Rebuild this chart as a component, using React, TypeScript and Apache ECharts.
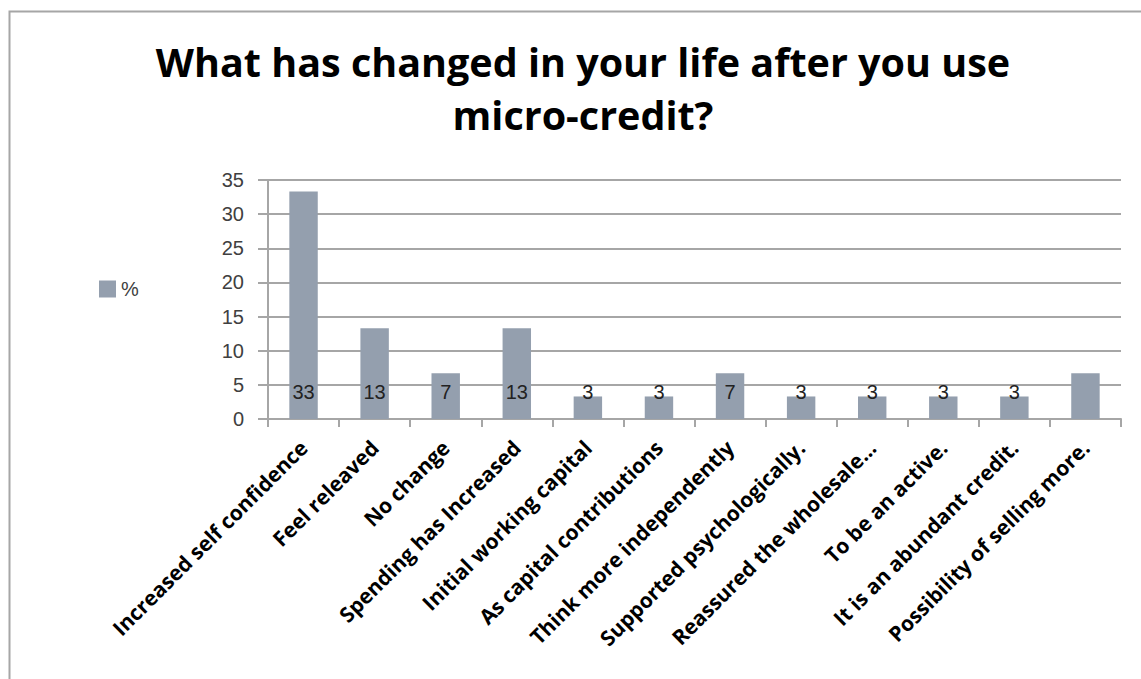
import React, { useEffect, useRef } from "react";
import * as echarts from "echarts";

const categories = [
  "Increased self confidence",
  "Feel releaved",
  "No change",
  "Spending has Increased",
  "Initial working capital",
  "As capital contributions",
  "Think more independently",
  "Supported psychologically.",
  "Reassured the wholesale...",
  "To be an active.",
  "It is an abundant credit.",
  "Possibility of selling more.",
];
const values = [33.3, 13.3, 6.7, 13.3, 3.3, 3.3, 6.7, 3.3, 3.3, 3.3, 3.3, 6.7];
const showLabel = [true, true, true, true, true, true, true, true, true, true, true, false];
const yTicks = { min: 0, max: 35, interval: 5 };
const titleLines = ["What has changed in your life after you use", "micro-credit?"];
const seriesName = "%";

export default function App() {
  const ref = useRef<HTMLDivElement>(null);
  useEffect(() => {
    document.body.style.margin = "0";
    const chart = echarts.init(ref.current!, undefined, { renderer: "svg" });
    const barColor = "#949fae";
    chart.setOption({
      animation: false,
      backgroundColor: "#ffffff",
      graphic: [
        {
          type: "polyline",
          shape: { points: [[9.5, 679], [9.5, 11.5], [1141, 11.5]] },
          style: { stroke: "#a6a6a6", lineWidth: 2, fill: null },
        },
        {
          type: "text",
          x: 583,
          y: 35,
          style: {
            text: titleLines.join("\n"),
            font: "bold 39.5px 'Open Sans'",
            fill: "#000000",
            align: "center",
            verticalAlign: "top",
            lineHeight: 53,
          },
        },
      ],
      legend: {
        data: [seriesName],
        left: 94,
        top: 274,
        itemWidth: 17,
        itemHeight: 17,
        itemGap: 4,
        icon: "rect",
        textStyle: { color: "#404040", fontSize: 20, fontFamily: "Liberation Sans" },
      },
      grid: { left: 268, right: 20, top: 180, bottom: 260, containLabel: false },
      xAxis: {
        type: "category",
        data: categories,
        axisLine: { lineStyle: { color: "#a6a6a6", width: 2 } },
        axisTick: { show: true, length: 8, alignWithLabel: false, lineStyle: { color: "#a6a6a6", width: 2 } },
        axisLabel: {
          interval: 0,
          rotate: 45,
          margin: 25,
          color: "#000000",
          fontSize: 21,
          fontWeight: "bold",
          fontFamily: "Open Sans",
        },
      },
      yAxis: {
        type: "value",
        min: yTicks.min,
        max: yTicks.max,
        interval: yTicks.interval,
        axisLine: { show: true, lineStyle: { color: "#a6a6a6", width: 2 } },
        axisTick: { show: true, length: 10, lineStyle: { color: "#a6a6a6", width: 2 } },
        splitLine: { show: true, lineStyle: { color: "#a6a6a6", width: 2 } },
        axisLabel: { color: "#404040", fontSize: 20, fontFamily: "Liberation Sans", margin: 24 },
      },
      series: [
        {
          name: seriesName,
          type: "bar",
          barCategoryGap: "60%",
          itemStyle: { color: barColor },
          data: values.map((v, i) => ({
            value: v,
            label: { show: showLabel[i] },
          })),
          label: {
            show: true,
            position: "insideBottom",
            distance: 17,
            color: "#222222",
            fontSize: 20,
            fontFamily: "Liberation Sans",
            formatter: (p: any) => String(Math.round(p.value)),
          },
        },
      ],
    });
    return () => chart.dispose();
  }, []);
  return <div ref={ref} style={{ width: 1141, height: 679 }} />;
}
